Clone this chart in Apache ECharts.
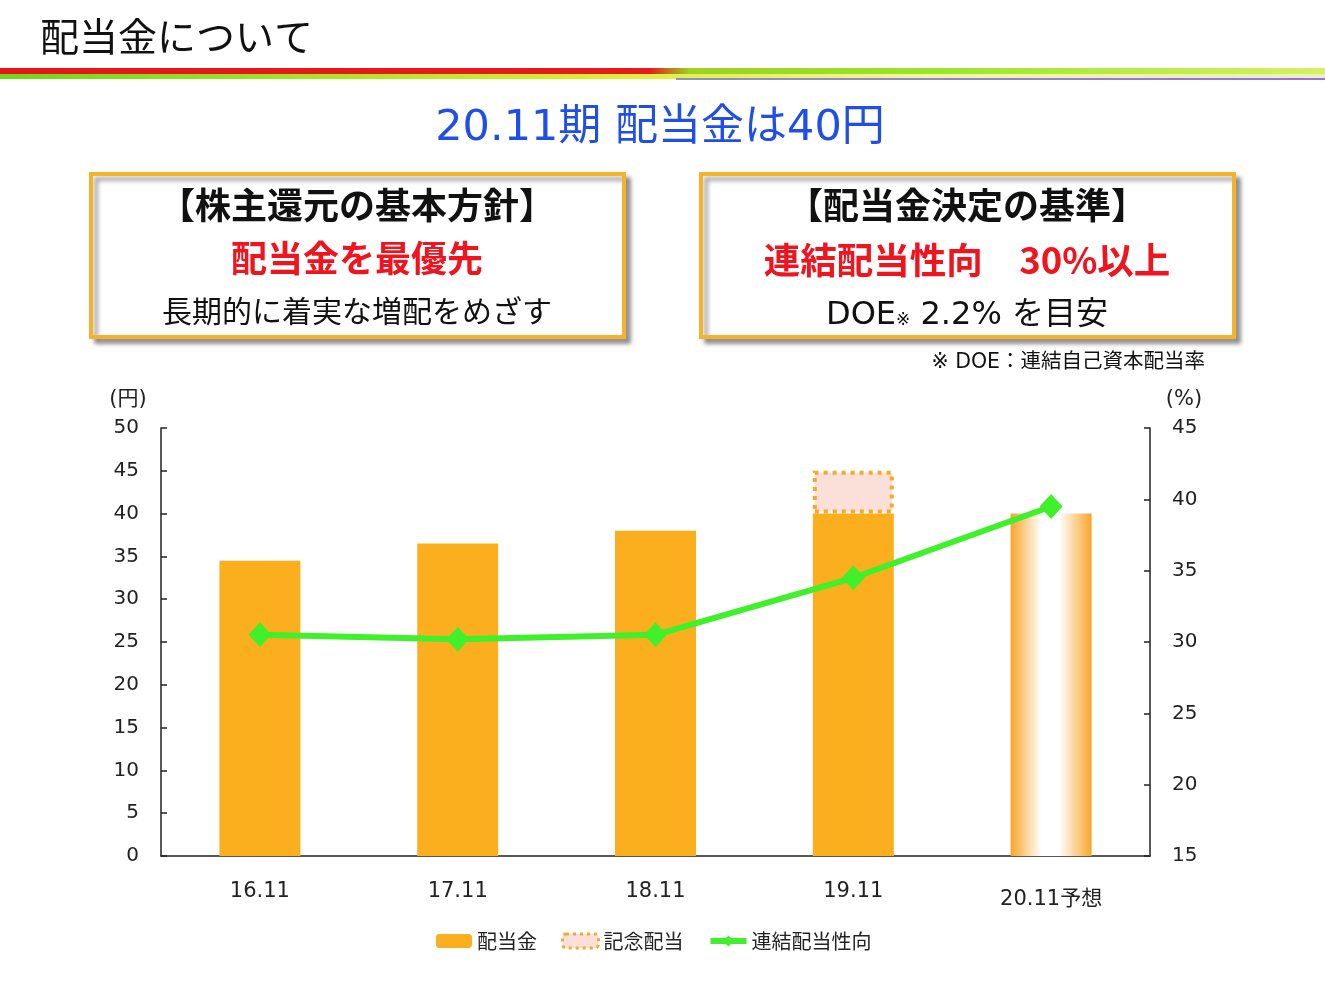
<!DOCTYPE html>
<html><head><meta charset="utf-8">
<script src="https://cdn.jsdelivr.net/npm/echarts@6/dist/echarts.min.js"></script>
<style>html,body{margin:0;padding:0;background:#fff;}#c{width:1325px;height:994px;}</style>
</head><body><div id="c"></div>
<script>
const categories = ['16.11', '17.11', '18.11', '19.11', '20.11予想'];
const dividend = [34.5, 36.5, 38, 40, 40];
const commemorative = [null, null, null, 5, null];
const payoutRatio = [30.5, 30.2, 30.5, 34.5, 39.5];
const leftTicks = {min: 0, max: 50, interval: 5};
const rightTicks = {min: 15, max: 45, interval: 5};

const F = '"DejaVu Sans", "Noto Sans CJK JP", sans-serif';
const FJ = '"Noto Sans CJK JP", "DejaVu Sans", sans-serif';
const ORANGE = '#FCAF1E';
const chart = echarts.init(document.getElementById('c'), null, {renderer: 'canvas'});

const barData = dividend.map((v, i) => {
  if (i === dividend.length - 1) {
    return {value: v, itemStyle: {color: new echarts.graphic.LinearGradient(0, 0, 1, 0, [
      {offset: 0, color: '#F8A52A'}, {offset: 0.38, color: '#FFFFFF'},
      {offset: 0.6, color: '#FFFFFF'}, {offset: 1, color: '#F8A52A'}])}};
  }
  return v;
});

function box(x, y, w, h) {
  return {type: 'rect', shape: {x: x, y: y, width: w, height: h},
    style: {fill: '#fff', stroke: '#F5B22A', lineWidth: 4,
      shadowBlur: 4, shadowOffsetX: 5, shadowOffsetY: 5, shadowColor: 'rgba(0,0,0,0.35)'}, z: 1};
}
function txt(x, y, text, size, color, weight, align, font) {
  return {type: 'text', x: x, y: y, z: 5,
    style: {text: text, font: (weight || 'normal') + ' ' + size + 'px ' + (font || F),
      fill: color, align: align || 'center', verticalAlign: 'middle'}};
}

chart.setOption({
  animation: false,
  backgroundColor: '#fff',
  graphic: [
    txt(40, 36, '配当金について', 39, '#111', 'normal', 'left', FJ),
    {type: 'rect', shape: {x: 0, y: 68, width: 1325, height: 6}, z: 1,
      style: {fill: new echarts.graphic.LinearGradient(0, 0, 1, 0, [
        {offset: 0, color: '#E8141C'}, {offset: 0.49, color: '#E81A1C'},
        {offset: 0.52, color: '#9FD020'}, {offset: 0.7, color: '#96E62A'}, {offset: 1, color: '#D8F060'}])}},
    {type: 'rect', shape: {x: 0, y: 74, width: 1325, height: 5}, z: 1,
      style: {fill: new echarts.graphic.LinearGradient(0, 0, 1, 0, [
        {offset: 0, color: '#6CD81E'}, {offset: 0.45, color: '#D8F030'}, {offset: 0.7, color: '#F2F6A0'}, {offset: 1, color: '#E8F0C0'}])}},
    {type: 'rect', shape: {x: 676, y: 78, width: 649, height: 2}, z: 2,
      style: {fill: new echarts.graphic.LinearGradient(0, 0, 1, 0, [
        {offset: 0, color: '#9090C0'}, {offset: 1, color: '#9A6EE0'}])}},
    txt(660, 129, '20.11期 配当金は40円', 43, '#1F4FE6'),
    box(91, 174, 533, 163),
    box(701, 174, 533, 163),
    txt(357, 205, '【株主還元の基本方針】', 36, '#111', 'bold', 'center', FJ),
    txt(357, 258, '配当金を最優先', 36, '#F0141E', 'bold', 'center', FJ),
    txt(357, 311, '長期的に着実な増配をめざす', 30, '#111', 'normal', 'center', FJ),
    txt(967, 205, '【配当金決定の基準】', 36, '#111', 'bold', 'center', FJ),
    txt(967, 260, '連結配当性向　30%以上', 36.5, '#F0141E', 'bold', 'center', FJ),
    {type: 'text', x: 967, y: 316, z: 5, style: {
      text: '{a|DOE}{s|※}{a| 2.2% を目安}',
      align: 'center', verticalAlign: 'middle',
      rich: {a: {font: 'normal 32px ' + F, fill: '#111'}, s: {font: 'normal 17px ' + F, fill: '#111', padding: [10, 0, 0, 0]}}}},
    txt(1205, 363, '※ DOE：連結自己資本配当率', 20.5, '#111', 'normal', 'right'),
    txt(128, 400, '(円)', 21, '#222'),
    txt(1184, 400, '(%)', 21, '#222')
  ],
  legend: {
    left: 436, top: 931, itemWidth: 36, itemHeight: 14, itemGap: 24, padding: 0,
    textStyle: {fontSize: 20, fontFamily: FJ, color: '#222'},
    data: [
      {name: '配当金'},
      {name: '記念配当', itemStyle: {color: '#FBE0DA', borderColor: '#F8A82A', borderWidth: 3, borderType: [3, 4]}},
      {name: '連結配当性向', lineStyle: {width: 6, color: '#3FF02A'}, itemStyle: {color: '#3FF02A'}}
    ]
  },
  grid: {left: 161, right: 175, top: 428, bottom: 138, containLabel: false},
  xAxis: {
    type: 'category', data: categories,
    axisLine: {lineStyle: {color: '#222', width: 1.5}},
    axisTick: {inside: true, length: 6, lineStyle: {color: '#222', width: 1.5}},
    axisLabel: {margin: 25, fontSize: 21, fontFamily: F, color: '#222',
      formatter: function (v) { return v.indexOf('予想') >= 0 ? '{b|' + v + '}' : v; },
      rich: {b: {fontSize: 21, fontFamily: F, color: '#222', padding: [8, 0, 0, 0]}}}
  },
  yAxis: [
    {type: 'value', min: leftTicks.min, max: leftTicks.max, interval: leftTicks.interval,
      splitLine: {show: false},
      axisLine: {show: true, lineStyle: {color: '#222', width: 1.5}},
      axisTick: {show: true, inside: true, length: 6, lineStyle: {color: '#222', width: 1.5}},
      axisLabel: {margin: 22, fontSize: 20, fontFamily: F, color: '#222', padding: [8, 0, 0, 0]}},
    {type: 'value', min: rightTicks.min, max: rightTicks.max, interval: rightTicks.interval,
      splitLine: {show: false},
      axisLine: {show: true, lineStyle: {color: '#222', width: 1.5}},
      axisTick: {show: true, inside: true, length: 6, lineStyle: {color: '#222', width: 1.5}},
      axisLabel: {margin: 22, fontSize: 20, fontFamily: F, color: '#222', padding: [8, 0, 0, 0]}}
  ],
  series: [
    {name: '配当金', type: 'bar', stack: 'd', barWidth: 81, data: barData,
      itemStyle: {color: ORANGE}},
    {name: '記念配当', type: 'bar', stack: 'd', barWidth: 81, data: commemorative,
      itemStyle: {color: '#FBE0DA', borderColor: '#F8A82A', borderWidth: 4, borderType: [4, 5]}},
    {name: '連結配当性向', type: 'line', yAxisIndex: 1, data: payoutRatio,
      lineStyle: {color: '#3FF02A', width: 6}, itemStyle: {color: '#3FF02A'},
      symbol: 'diamond', symbolSize: [23, 25], z: 5}
  ]
});
</script></body></html>
